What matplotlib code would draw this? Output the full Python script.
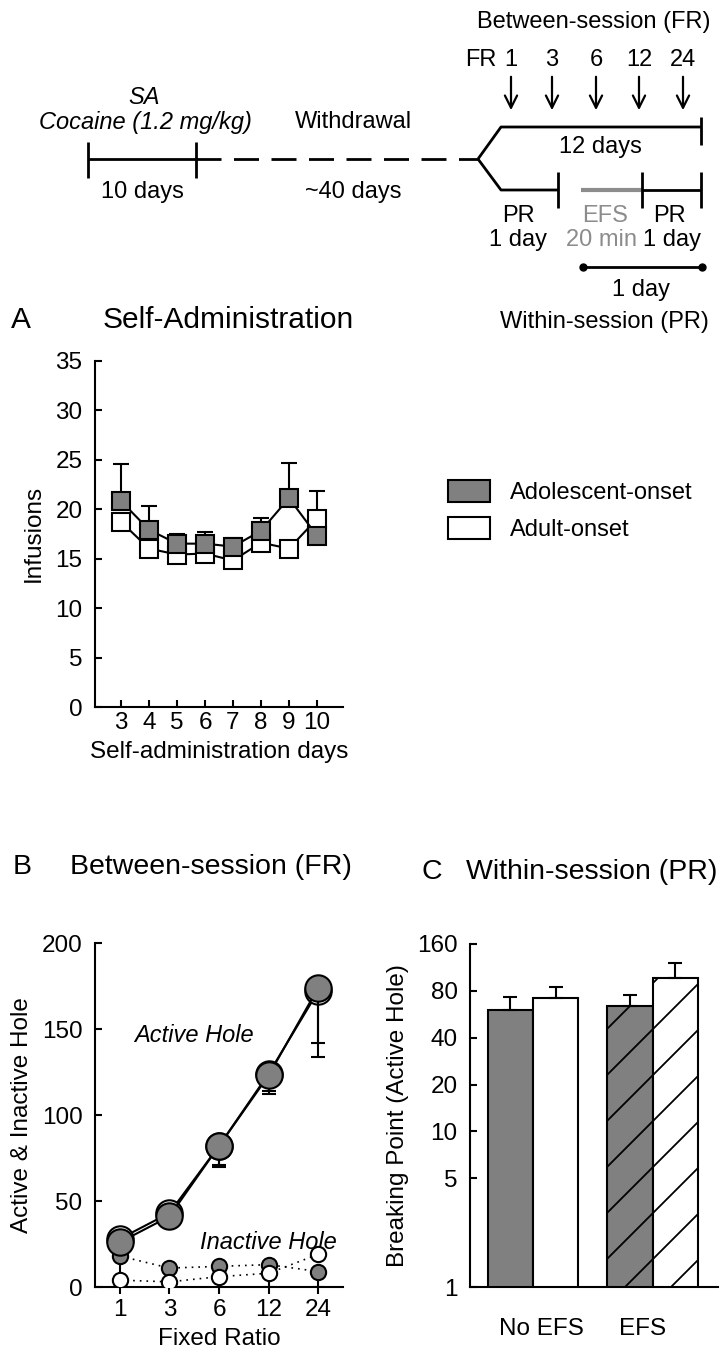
import matplotlib
matplotlib.use("Agg")
import matplotlib.pyplot as plt
import numpy as np
from matplotlib.patches import Patch, Polygon
from matplotlib.ticker import NullLocator

plt.rcParams['font.family'] = ['Liberation Sans', 'DejaVu Sans']

# panel A: self-administration
days = [3, 4, 5, 6, 7, 8, 9, 10]
adol_inf = [20.8, 17.9, 16.5, 16.5, 16.2, 17.8, 21.1, 17.3]
adol_inf_err = [3.7, 2.4, 1.0, 1.2, 0.9, 1.3, 3.5, 0.4]
adult_inf = [18.7, 16.0, 15.4, 15.5, 14.8, 16.6, 16.0, 19.0]
adult_inf_err = [0.8, 0.7, 0.6, 0.6, 0.7, 0.6, 0.8, 2.8]

# panel B: between-session FR
fr_labels = ['1', '3', '6', '12', '24']
adol_active = [26, 41, 82, 123, 174]
adol_active_err = [4, 5, 12, 11, 40]
adult_active = [28, 43, 82, 124, 172]
adult_active_err = [4, 5, 11, 10, 30]
adol_inactive = [18, 11, 12, 13, 9]
adol_inactive_err = [12, 3, 3, 3, 9]
adult_inactive = [4, 3, 6, 8, 19]
adult_inactive_err = [1, 1, 2, 8, 3]

# panel C: within-session PR
conditions = ['No EFS', 'EFS']
adol_bp = [60.5, 64]
adol_bp_err = [13, 11]
adult_bp = [71.5, 96.5]
adult_bp_err = [13, 24]

GRAY = '#808080'
W, H = 723, 1361

fig = plt.figure(figsize=(W / 100, H / 100), dpi=100)


def rect(left, top, right, bottom):
    return [left / W, 1 - bottom / H, (right - left) / W, (bottom - top) / H]


# ---- timeline schematic (pixel units) ----
tl = fig.add_axes([0, 1 - 340 / H, 1, 340 / H])
tl.set_xlim(0, W)
tl.set_ylim(340, 0)
tl.axis('off')
lk = dict(color='k', lw=2, solid_capstyle='butt')
tfs = 17
tl.plot([88, 196], [159, 159], **lk)
tl.plot([88, 88], [142, 178], **lk)
tl.plot([196, 196], [142, 178], **lk)
tl.plot([196, 478], [159, 159], color='k', lw=2, ls=(0, (9, 4.5)))
tl.plot([478, 501, 701], [159, 127, 127], **lk)
tl.plot([701, 701], [117, 145], **lk)
tl.plot([478, 501, 558], [159, 190, 190], **lk)
tl.plot([581, 642], [190, 190], color='#8c8c8c', lw=3, solid_capstyle='butt')
tl.plot([642, 701], [190, 190], **lk)
for xv in [558, 642, 701]:
    tl.plot([xv, xv], [172, 208], **lk)
tl.plot([583, 702], [267, 267], color='k', lw=2, marker='o', ms=5)
for xv, lab in zip([511, 552, 596, 639, 683], fr_labels):
    tl.annotate('', xy=(xv, 113), xytext=(xv, 74),
                arrowprops=dict(arrowstyle='->', lw=1.6, color='k', mutation_scale=22))
    tl.text(xv, 60, lab, ha='center', va='center', fontsize=tfs)
tl.text(481, 60, 'FR', ha='center', va='center', fontsize=tfs)
tl.text(594, 22, 'Between-session (FR)', ha='center', va='center', fontsize=tfs)
tl.text(144, 97, 'SA', ha='center', va='center', fontsize=tfs, style='italic')
tl.text(145, 122, 'Cocaine (1.2 mg/kg)', ha='center', va='center', fontsize=tfs, style='italic')
tl.text(142, 192, '10 days', ha='center', va='center', fontsize=tfs)
tl.text(353, 122, 'Withdrawal', ha='center', va='center', fontsize=tfs)
tl.text(353, 192, '~40 days', ha='center', va='center', fontsize=tfs)
tl.text(600, 147, '12 days', ha='center', va='center', fontsize=tfs)
tl.text(518, 216, 'PR', ha='center', va='center', fontsize=tfs)
tl.text(518, 240, '1 day', ha='center', va='center', fontsize=tfs)
tl.text(605, 216, 'EFS', ha='center', va='center', fontsize=tfs, color='#8c8c8c')
tl.text(602, 240, '20 min', ha='center', va='center', fontsize=tfs, color='#8c8c8c')
tl.text(669, 216, 'PR', ha='center', va='center', fontsize=tfs)
tl.text(672, 240, '1 day', ha='center', va='center', fontsize=tfs)
tl.text(641, 290, '1 day', ha='center', va='center', fontsize=tfs)
tl.text(604, 322, 'Within-session (PR)', ha='center', va='center', fontsize=tfs)

fig.text(21 / W, 1 - 320 / H, 'A', ha='center', va='center', fontsize=21.5)
fig.text(228 / W, 1 - 320 / H, 'Self-Administration', ha='center', va='center', fontsize=21.5)
fig.text(22 / W, 1 - 867 / H, 'B', ha='center', va='center', fontsize=20.5)
fig.text(211 / W, 1 - 867 / H, 'Between-session (FR)', ha='center', va='center', fontsize=20.5)
fig.text(432 / W, 1 - 872 / H, 'C', ha='center', va='center', fontsize=20.5)
fig.text(592 / W, 1 - 872 / H, 'Within-session (PR)', ha='center', va='center', fontsize=20.5)


def style(ax):
    for s in ['top', 'right']:
        ax.spines[s].set_visible(False)
    for s in ['left', 'bottom']:
        ax.spines[s].set_linewidth(1.5)
    ax.tick_params(direction='in', length=5, width=1.5, labelsize=17.5)
    ax.tick_params(axis='y', pad=9)


# ---- panel A ----
axA = fig.add_axes(rect(95, 360.5, 343, 707))
style(axA)
axA.errorbar(days, adult_inf, yerr=[np.zeros(len(days)), adult_inf_err], color='k',
             lw=1.5, marker='s', ms=13, mfc='white', mec='k', mew=1.5,
             capsize=6, capthick=1.5, elinewidth=1.5, zorder=3)
axA.errorbar(days, adol_inf, yerr=[np.zeros(len(days)), adol_inf_err], color='k',
             lw=1.5, marker='s', ms=13, mfc=GRAY, mec='k', mew=1.5,
             capsize=6, capthick=1.5, elinewidth=1.5, zorder=4)
axA.set_xlim(2.07, 10.93)
axA.set_ylim(0, 35)
axA.set_xticks(days)
axA.set_yticks(np.arange(0, 36, 5))
axA.set_ylabel('Infusions', fontsize=17.5, labelpad=8)
axA.set_xlabel('Self-administration days', fontsize=17.5, labelpad=5)

fig.legend([Patch(facecolor=GRAY, edgecolor='k', lw=1.5),
            Patch(facecolor='white', edgecolor='k', lw=1.5)],
           ['Adolescent-onset', 'Adult-onset'], loc='upper left',
           bbox_to_anchor=(448 / W, 1 - 480 / H), frameon=False, fontsize=17,
           handlelength=1.78, handleheight=1.06, handletextpad=0.85,
           labelspacing=0.55, borderpad=0, borderaxespad=0)

# ---- panel B ----
axB = fig.add_axes(rect(95, 943, 343, 1287))
style(axB)
axB.tick_params(axis='x', direction='out')
xi = np.arange(len(fr_labels))
zero = np.zeros(len(fr_labels))
axB.errorbar(xi, adol_inactive, yerr=[adol_inactive_err, zero], color='k', lw=1.2,
             ls=(0, (1, 3)), marker='o', ms=11, mfc=GRAY, mec='k', mew=1.5,
             capsize=4, capthick=1.5, elinewidth=1.5, zorder=2)
axB.errorbar(xi, adult_inactive, yerr=[adult_inactive_err, zero], color='k', lw=1.2,
             ls=(0, (1, 3)), marker='o', ms=11, mfc='white', mec='k', mew=1.5,
             capsize=4, capthick=1.5, elinewidth=1.5, zorder=3)
axB.errorbar(xi, adult_active, yerr=[adult_active_err, zero], color='k', lw=1.5,
             marker='o', ms=19, mfc='white', mec='k', mew=1.5,
             capsize=5, capthick=1.5, elinewidth=1.5, zorder=4)
axB.errorbar(xi, adol_active, yerr=[adol_active_err, zero], color='k', lw=1.5,
             marker='o', ms=19, mfc=GRAY, mec='k', mew=1.5,
             capsize=5, capthick=1.5, elinewidth=1.5, zorder=5)
axB.set_xlim(-0.5, 4.5)
axB.set_ylim(0, 200)
axB.set_xticks(xi)
axB.set_xticklabels(fr_labels)
axB.set_yticks([0, 50, 100, 150, 200])
axB.set_ylabel('Active & Inactive Hole', fontsize=17.5, labelpad=6)
axB.set_xlabel('Fixed Ratio', fontsize=17.5, labelpad=5)
axB.text(0.4, 0.73, 'Active Hole', transform=axB.transAxes, ha='center', va='center',
         fontsize=17, style='italic')
axB.text(0.7, 0.13, 'Inactive Hole', transform=axB.transAxes, ha='center', va='center',
         fontsize=17, style='italic')

# ---- panel C ----
axC = fig.add_axes(rect(470, 944, 718, 1287))
style(axC)
axC.set_yscale('log')
xc = np.arange(len(conditions))
bw = 0.377
bars_adol = axC.bar(xc - bw / 2, adol_bp, bw, color=GRAY, edgecolor='k', lw=1.5,
                    yerr=[np.zeros(2), adol_bp_err], capsize=5,
                    error_kw=dict(elinewidth=1.5, capthick=1.5), zorder=2)
bars_adult = axC.bar(xc + bw / 2, adult_bp, bw, color='white', edgecolor='k', lw=1.5,
                     yerr=[np.zeros(2), adult_bp_err], capsize=5,
                     error_kw=dict(elinewidth=1.5, capthick=1.5), zorder=2)
axC.set_xlim(-0.527, 1.548)
axC.set_ylim(1, 160)
axC.set_yticks([1, 5, 10, 20, 40, 80, 160])
axC.set_yticklabels(['1', '5', '10', '20', '40', '80', '160'])
axC.yaxis.set_minor_locator(NullLocator())
axC.set_xticks(xc + np.array([0.07, -0.08]))
axC.set_xticklabels(conditions, fontsize=17.5)
axC.tick_params(axis='x', length=0, pad=22)
axC.set_ylabel('Breaking Point (Active Hole)', fontsize=17.5, labelpad=6)

# hatch the EFS bars with wide-spaced diagonal lines, clipped to each bar
bb = axC.get_window_extent()
aw, ah = bb.width, bb.height
spacing = 46.0 / ah
slope = aw / ah
ybot = axC.get_ylim()[0]
for bar in [bars_adol[1], bars_adult[1]]:
    x0, x1 = bar.get_x(), bar.get_x() + bar.get_width()
    top = bar.get_y() + bar.get_height()
    clip = Polygon([(x0, ybot), (x1, ybot), (x1, top), (x0, top)], closed=True,
                   transform=axC.transData, fill=False, visible=False)
    axC.add_patch(clip)
    for k in np.arange(-3, 1.5, spacing):
        xs = np.array([0.0, 1.0])
        ln, = axC.plot(xs, k + slope * xs, color='k', lw=1.3, transform=axC.transAxes,
                       zorder=2.5)
        ln.set_clip_path(clip)

fig.savefig('out.png', dpi=100)
